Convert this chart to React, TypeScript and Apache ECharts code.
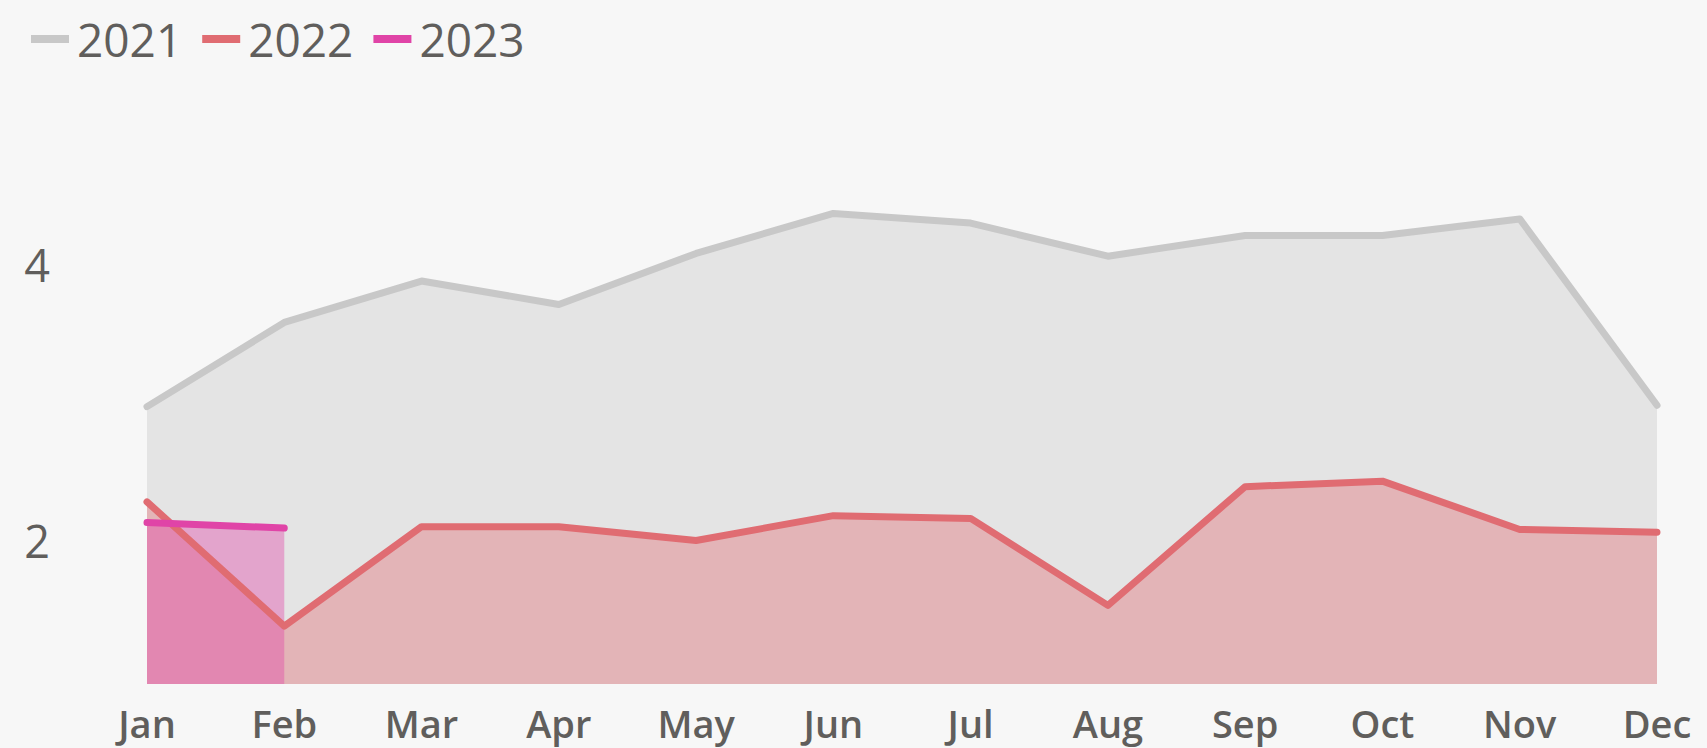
import React, { useEffect, useRef } from "react";
import * as echarts from "echarts";

const months = ["Jan", "Feb", "Mar", "Apr", "May", "Jun", "Jul", "Aug", "Sep", "Oct", "Nov", "Dec"];
const seriesNames = ["2021", "2022", "2023"];
const values2021 = [3.01, 3.62, 3.92, 3.75, 4.12, 4.41, 4.34, 4.10, 4.25, 4.25, 4.37, 3.02];
const values2022 = [2.32, 1.42, 2.14, 2.14, 2.04, 2.22, 2.20, 1.57, 2.43, 2.47, 2.12, 2.10];
const values2023 = [2.17, 2.13];
const yTickLabels = [2, 4];

const colors = ["#C8C8C8", "#E06C72", "#E044A7"];
const FONT = "'Open Sans', 'Noto Sans', sans-serif";
const TEXT = "#605E5C";

export default function App() {
  const ref = useRef<HTMLDivElement>(null);
  useEffect(() => {
    document.body.style.margin = "0";
    document.body.style.background = "#F7F7F7";
    const chart = echarts.init(ref.current!, null, { renderer: "svg" });
    const data = [values2021, values2022, values2023];
    const areaSeries = seriesNames.map((name, i) => ({
      name,
      type: "line",
      data: data[i],
      z: 1,
      silent: true,
      showSymbol: false,
      symbol: "none",
      color: colors[i],
      lineStyle: { width: 0 },
      areaStyle: { color: colors[i], opacity: 0.4 },
    }));
    const lineSeries = seriesNames.map((name, i) => ({
      name,
      type: "line",
      data: data[i],
      z: 2,
      showSymbol: false,
      symbol: "none",
      color: colors[i],
      itemStyle: { color: colors[i] },
      lineStyle: { width: 7, color: colors[i], cap: "round", join: "round" },
    }));
    chart.setOption({
      animation: false,
      backgroundColor: "#F7F7F7",
      textStyle: { fontFamily: FONT },
      legend: {
        data: seriesNames,
        left: 26,
        top: 11,
        icon: "rect",
        itemWidth: 38,
        itemHeight: 8,
        itemGap: 20,
        textStyle: { color: TEXT, fontSize: 46, fontFamily: FONT, fontWeight: 400, padding: [0, 0, 0, 3] },
      },
      grid: { left: 147, right: 50, top: 132, bottom: 64, containLabel: false },
      xAxis: {
        type: "category",
        data: months,
        boundaryGap: false,
        axisLine: { show: false },
        axisTick: { show: false },
        axisLabel: { color: TEXT, fontSize: 38, fontWeight: 600, fontFamily: FONT, margin: 20 },
      },
      yAxis: {
        type: "value",
        min: 1,
        max: 5,
        interval: 1,
        splitLine: { show: false },
        axisLine: { show: false },
        axisTick: { show: false },
        axisLabel: {
          color: TEXT,
          fontSize: 45,
          fontFamily: FONT,
          margin: 97,
          formatter: (v: number) => (yTickLabels.includes(v) ? "{a|" + v + "}" : ""),
          rich: {
            a: { color: TEXT, fontSize: 45, fontFamily: FONT, padding: [0, 0, 12, 0] },
          },
        },
      },
      series: [...areaSeries, ...lineSeries],
    });
    return () => chart.dispose();
  }, []);
  return <div ref={ref} style={{ position: "absolute", left: 0, top: 0, width: 1707, height: 748 }} />;
}
